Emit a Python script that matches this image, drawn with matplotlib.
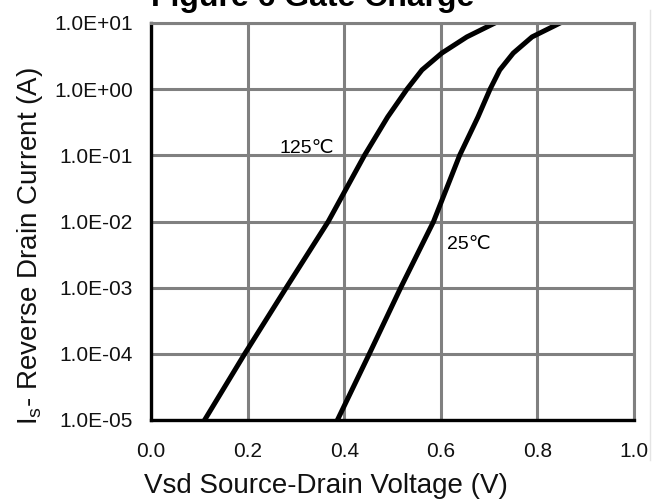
import matplotlib
matplotlib.use("Agg")
import matplotlib.pyplot as plt
from matplotlib.lines import Line2D

plt.rcParams['font.family'] = ['Liberation Sans', 'DejaVu Sans']

# curve points (Vsd in V, Is in A)
current = [1e-5, 1e-4, 1e-3, 1e-2, 1e-1, 10**-0.42, 1e0,
           10**0.29, 10**0.545, 10**0.79, 1e1]
vsd_125 = [0.111, 0.194, 0.280, 0.367, 0.442, 0.490, 0.530,
           0.561, 0.602, 0.654, 0.712]
vsd_25 = [0.386, 0.452, 0.517, 0.585, 0.639, 0.677, 0.702,
          0.722, 0.750, 0.789, 0.847]

xticks = [0.0, 0.2, 0.4, 0.6, 0.8, 1.0]
xtick_labels = ['0.0', '0.2', '0.4', '0.6', '0.8', '1.0']
yticks = [1e-5, 1e-4, 1e-3, 1e-2, 1e-1, 1e0, 1e1]
ytick_labels = ['1.0E-05', '1.0E-04', '1.0E-03', '1.0E-02', '1.0E-01', '1.0E+00', '1.0E+01']

fig = plt.figure(figsize=(6.66, 5.03), dpi=100)
ax = fig.add_axes([151 / 666, 1 - 420 / 503, 483 / 666, 397 / 503])

ax.plot(vsd_125, current, color='black', lw=3.6, solid_joinstyle='round')
ax.plot(vsd_25, current, color='black', lw=3.6, solid_joinstyle='round')

ax.set_yscale('log')
ax.set_xlim(0, 1)
ax.set_ylim(1e-5, 1e1)
ax.set_xticks(xticks)
ax.set_xticklabels(xtick_labels)
ax.set_yticks(yticks)
ax.set_yticklabels(ytick_labels)
ax.minorticks_off()
ax.tick_params(axis='both', length=0, labelsize=15, labelcolor='#111111')
ax.tick_params(axis='x', pad=16)
ax.tick_params(axis='y', pad=13)

ax.grid(True, color='#808080', lw=2.2)
ax.set_axisbelow(True)
for s in ['top', 'right']:
    ax.spines[s].set_color('#808080')
    ax.spines[s].set_linewidth(2.2)
for s in ['left', 'bottom']:
    ax.spines[s].set_color('black')
    ax.spines[s].set_linewidth(2.4)

# axis titles sit off-centre in the reference, so place them on the figure
fig.text(144 / 666, 1 - 493 / 503, 'Vsd Source-Drain Voltage (V)', fontsize=20,
         ha='left', va='baseline', color='#111111')
fig.text(15 / 666, 1 - 425 / 503, 'I$_\\mathregular{s}$- Reverse Drain Current (A)',
         fontsize=20, rotation=90, ha='left', va='bottom', color='#111111')

ax.text(0.267, 10**-0.97, '125℃', fontsize=14, ha='left', va='baseline')
ax.text(0.613, 10**-2.41, '25℃', fontsize=14, ha='left', va='baseline')

fig.text(151 / 666, 1 - 6 / 503, 'Figure 6 Gate Charge', fontsize=23,
         fontweight='bold', ha='left', va='baseline')

# faint scan edge on the right
fig.add_artist(Line2D([650 / 666, 650 / 666], [1 - 460 / 503, 1 - 10 / 503],
                      color='#e4e4e4', lw=1))

fig.savefig('out.png', dpi=100)
